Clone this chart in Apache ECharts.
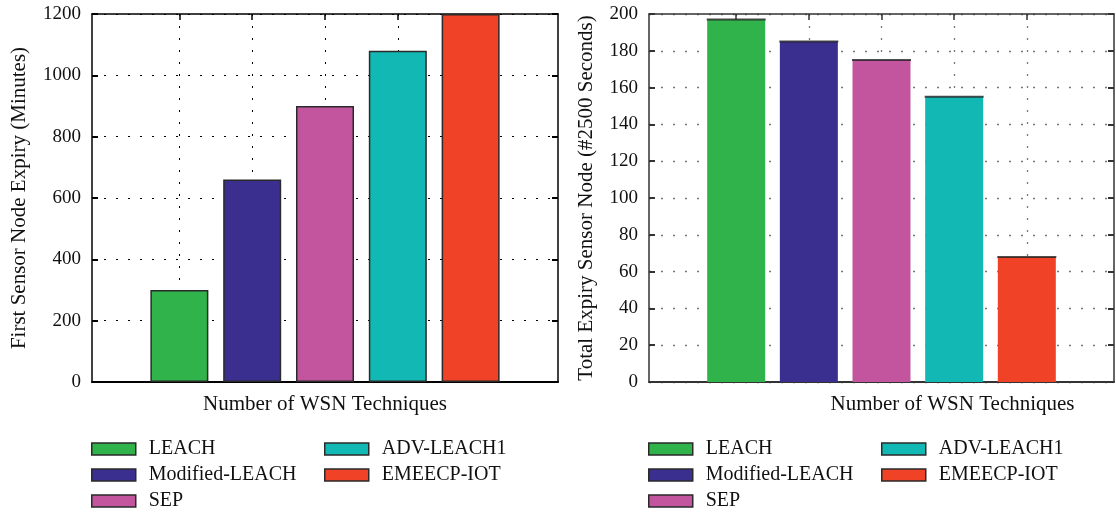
<!DOCTYPE html>
<html><head><meta charset="utf-8">
<script src="https://cdn.jsdelivr.net/npm/echarts@6/dist/echarts.min.js"></script>
<style>html,body{margin:0;padding:0;background:#fff}#c{width:1116px;height:513px}</style>
</head><body><div id="c"></div>
<script>
const techniques = ['LEACH', 'Modified-LEACH', 'SEP', 'ADV-LEACH1', 'EMEECP-IOT'];
const positions = [1, 2, 3, 4, 5];
const firstExpiry = [300, 660, 900, 1080, 1200];
const totalExpiry = [197, 185, 175, 155, 68];
const leftYTicks = [0, 200, 400, 600, 800, 1000, 1200];
const rightYTicks = [0, 20, 40, 60, 80, 100, 120, 140, 160, 180, 200];
const colors = ['#2FB34A', '#3A2F8F', '#C2559E', '#12B8B3', '#EF4227'];

const FONT = 'Liberation Serif';
const chart = echarts.init(document.getElementById('c'));

function xAxes(grid, pos, name, namePad, dark) {
  const lc = dark ? '#000' : '#333';
  const ax = {
    gridIndex: grid, type: 'value', min: -0.2, max: 6.2, position: pos,
    axisLine: { show: true, onZero: false, lineStyle: { color: lc, width: pos === 'bottom' ? 2 : 1.5 } },
    axisTick: { show: true, inside: true, length: 6, customValues: positions, lineStyle: { color: lc, width: 1.5 } },
    axisLabel: { show: false },
    splitLine: { show: false }
  };
  if (pos === 'bottom') {
    ax.splitLine = { show: true, lineStyle: { type: [2, 10], color: dark ? '#000' : '#777', width: dark ? 1 : 1.3 } };
    ax.name = name;
    ax.nameLocation = 'middle';
    ax.nameGap = 12;
    ax.nameTextStyle = { fontFamily: FONT, fontSize: 21, color: '#111', padding: namePad };
  }
  return ax;
}

function yAxes(grid, ticks, pos, name, nameGap, dark) {
  const lc = dark ? '#000' : '#333';
  const ax = {
    gridIndex: grid, type: 'value', min: ticks[0], max: ticks[ticks.length - 1],
    interval: ticks[1] - ticks[0], position: pos,
    axisLine: { show: true, onZero: false, lineStyle: { color: lc, width: 1.5 } },
    axisTick: { show: true, inside: true, length: 6, lineStyle: { color: lc, width: 2 } },
    axisLabel: { show: false },
    splitLine: { show: false }
  };
  if (pos === 'left') {
    ax.axisLabel = { show: true, margin: 11, fontFamily: FONT, fontSize: 19, color: '#111', formatter: v => String(v) };
    ax.splitLine = { show: true, lineStyle: { type: [2, 10], color: dark ? '#000' : '#777', width: dark ? 1 : 1.3 } };
    ax.name = name;
    ax.nameLocation = 'middle';
    ax.nameGap = nameGap;
    ax.nameTextStyle = { fontFamily: FONT, fontSize: 21, color: '#111' };
  }
  return ax;
}

const series = [];
techniques.forEach((t, k) => {
  series.push({
    type: 'bar', name: t, xAxisIndex: 0, yAxisIndex: 0,
    data: [[positions[k], firstExpiry[k]]],
    barWidth: 58, barGap: '-100%',
    itemStyle: { color: colors[k], borderColor: '#2a2a2a', borderWidth: 1.5 }
  });
});
techniques.forEach((t, k) => {
  series.push({
    type: 'bar', name: t, xAxisIndex: 2, yAxisIndex: 2,
    data: [[positions[k], totalExpiry[k]]],
    barWidth: 58, barGap: '-100%',
    itemStyle: { color: colors[k] }
  });
});
series.push({
  type: 'scatter', xAxisIndex: 2, yAxisIndex: 2, silent: true,
  symbol: 'rect', symbolSize: [59, 2],
  itemStyle: { color: '#222' },
  data: positions.map((p, k) => [p, totalExpiry[k]]),
  z: 5
});

function legend(left, names) {
  return {
    left: left, top: 439, height: 100, padding: 0, orient: 'vertical', data: names,
    itemWidth: 44, itemHeight: 12, itemGap: 6, icon: 'rect',
    itemStyle: { borderColor: '#2a2a2a', borderWidth: 1.5 },
    textStyle: { fontFamily: FONT, fontSize: 20, color: '#111', padding: [0, 0, 0, 8] },
    selectedMode: false
  };
}

chart.setOption({
  animation: false,
  grid: [
    { left: 92, top: 14, width: 466, height: 368, outerBoundsMode: 'none', containLabel: false },
    { left: 649, top: 14, width: 465, height: 368, outerBoundsMode: 'none', containLabel: false }
  ],
  xAxis: [
    xAxes(0, 'bottom', 'Number of WSN Techniques', [0, 0, 0, 0], true),
    xAxes(0, 'top', '', null, true),
    xAxes(1, 'bottom', 'Number of WSN Techniques', [0, 0, 0, 142], false),
    xAxes(1, 'top', '', null, false)
  ],
  yAxis: [
    yAxes(0, leftYTicks, 'left', 'First Sensor Node Expiry (Minutes)', 62, true),
    yAxes(0, leftYTicks, 'right', '', 0, true),
    yAxes(1, rightYTicks, 'left', 'Total Expiry Sensor Node (#2500 Seconds)', 52, false),
    yAxes(1, rightYTicks, 'right', '', 0, false)
  ],
  legend: [
    legend(91, techniques.slice(0, 3)),
    legend(324, techniques.slice(3)),
    legend(648, techniques.slice(0, 3)),
    legend(881, techniques.slice(3))
  ],
  series: series
});
</script></body></html>
